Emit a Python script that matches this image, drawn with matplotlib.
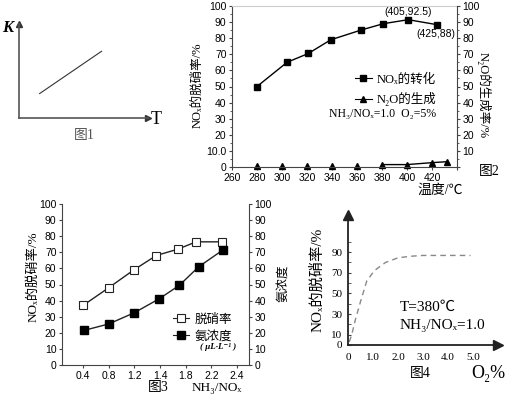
import numpy as np
import matplotlib
matplotlib.use("Agg")
import matplotlib.pyplot as plt
from matplotlib.lines import Line2D

plt.rcParams['font.family'] = ['Liberation Serif', 'Noto Sans CJK SC', 'DejaVu Sans']

W, H = 505, 394

# fig 1 (schematic K vs T)
k_line_t = [0.16, 0.64]
k_line_k = [0.26, 0.71]

# fig 2
temp_nox = [280, 304, 321, 339, 363, 381, 401, 424]
nox_conv = [50, 65, 70.5, 79, 85, 89, 91.5, 88.4]
temp_n2o = [280, 300, 320, 340, 360, 380, 400, 420, 432]
n2o_gen = [0.5, 0.5, 0.5, 0.5, 0.5, 1.5, 1.5, 2.7, 3.3]

# fig 3 (x in tick positions)
ratio_labels = ["0.4", "0.8", "1.2", "1.4", "1.8", "2.2", "2.4"]
pos_rate = [0.0, 1.0, 1.97, 2.85, 3.7, 4.4, 5.4]
denox_rate = [37, 48, 59, 68, 72, 76.5, 76.5]
pos_nh3 = [0.04, 1.0, 2.0, 2.95, 3.75, 4.5, 5.45]
nh3_conc = [21.5, 25.5, 32.5, 41, 49.5, 61, 71.5]

# fig 4
o2_pct = [0.05, 0.15, 0.3, 0.5, 0.75, 1.05, 1.5, 2.0, 2.5, 3.0, 4.0, 4.9]
o2_rate = [3, 10, 25, 42, 62, 72, 80, 84.5, 86, 86.8, 86.8, 86.8]


def rect(l, t, r, b):
    return [l / W, 1 - b / H, (r - l) / W, (b - t) / H]


def ft(x, y, s, **kw):
    kw.setdefault('ha', 'center')
    kw.setdefault('va', 'center')
    fig.text(x / W, 1 - y / H, s, **kw)


fig = plt.figure(figsize=(W / 100, H / 100), dpi=100)
axc = '#444444'
sans = ['Liberation Sans', 'Noto Sans CJK SC']

# ---------- fig 1 ----------
ax1 = fig.add_axes(rect(19, 24, 148, 118))
ax1.set_xlim(0, 1)
ax1.set_ylim(0, 1)
for s in ['top', 'right']:
    ax1.spines[s].set_visible(False)
for s in ['left', 'bottom']:
    ax1.spines[s].set_color('#555555')
    ax1.spines[s].set_linewidth(1.2)
ax1.set_xticks([])
ax1.set_yticks([])
ax1.plot(k_line_t, k_line_k, color='#333333', lw=0.8)
ax1.plot(0, 1, marker='^', color='#333333', ms=5, transform=ax1.transAxes, clip_on=False)
ax1.plot(1, 0, marker='>', color='#333333', ms=5, transform=ax1.transAxes, clip_on=False)
ft(8, 28, "K", fontsize=12, style='italic', fontweight='bold')
ft(156, 119, "T", fontsize=13)
ft(84, 135, "图1", fontsize=10, color='#555555')

# ---------- fig 2 ----------
ax2 = fig.add_axes(rect(232, 6, 457, 167))
ax2.set_xlim(260, 440)
ax2.set_ylim(0, 100)
ax2.plot(temp_nox, nox_conv, color='black', lw=1, marker='s', ms=4.5)
ax2.plot(temp_n2o, n2o_gen, color='black', lw=0, marker='^', ms=4.5, clip_on=False)
ax2.plot(temp_n2o[5:], n2o_gen[5:], color='black', lw=1)
ax2.set_xticks(range(260, 441, 20))
ax2.set_xticklabels([str(v) for v in range(260, 421, 20)] + [""])
ax2.set_yticks(range(0, 101, 10))
ax2.set_yticklabels(["0", "10.0"] + [str(v) for v in range(20, 101, 10)])
ax2.set_yticks(range(0, 101, 5), minor=True)
ax2.tick_params(labelsize=7.5, length=2.5, color=axc, pad=1.5)
ax2.tick_params(which='minor', length=1.5, color=axc)
for lab in ax2.get_xticklabels() + ax2.get_yticklabels():
    lab.set_family(sans)
ax2.spines['top'].set_color('#cccccc')
ax2.spines['right'].set_visible(False)
for s in ['left', 'bottom']:
    ax2.spines[s].set_color(axc)
ax2b = ax2.twinx()
ax2b.set_ylim(0, 100)
ax2b.set_yticks(range(0, 101, 10))
ax2b.set_yticklabels([""] + [str(v) for v in range(10, 101, 10)])
ax2b.set_yticks(range(0, 101, 5), minor=True)
ax2b.tick_params(labelsize=7.5, length=2.5, color=axc, pad=1.5)
ax2b.tick_params(which='minor', length=1.5, color=axc)
for lab in ax2b.get_yticklabels():
    lab.set_family(sans)
ax2b.spines['right'].set_color(axc)
for s in ['top', 'left', 'bottom']:
    ax2b.spines[s].set_visible(False)

h1 = Line2D([], [], color='black', lw=0.8, marker='s', ms=4)
h2 = Line2D([], [], color='black', lw=0.8, marker='^', ms=4)
ax2.legend([h1, h2], ["NOₓ的转化", "N₂O的生成"], frameon=False, fontsize=9,
           loc='upper left', bbox_to_anchor=(0.52, 0.62), handlelength=1.3,
           handletextpad=0.4, labelspacing=0.5, borderpad=0)
ft(329, 114, "NH₃/NOₓ=1.0  O₂=5%", fontsize=8.5, ha='left')
ft(408, 12, "(405,92.5)", fontsize=7.5, family=sans)
ft(436, 34, "(425,88)", fontsize=7.5, family=sans)
ft(197, 85, "NOₓ的脱硝率/%", fontsize=9, rotation=90)
ft(484, 95, "N₂O的生成率/%", fontsize=9, rotation=270)
ft(440, 190, "温度/℃", fontsize=10)
ft(489, 172, "图2", fontsize=10)

# ---------- fig 3 ----------
ax3 = fig.add_axes(rect(62, 204, 249, 365))
ax3.set_xlim(-0.82, 6.46)
ax3.set_ylim(0, 100)
ax3.plot(pos_rate, denox_rate, color='#222222', lw=1, marker='s', ms=6,
         mfc='white', mec='#222222', mew=0.8)
ax3.plot(pos_nh3, nh3_conc, color='#222222', lw=1, marker='s', ms=6,
         mfc='black', mec='black')
ax3.set_xticks(range(len(ratio_labels)))
ax3.set_xticklabels(ratio_labels)
ax3.set_yticks(range(0, 101, 10))
ax3.tick_params(labelsize=7.5, length=2.5, color=axc, pad=1.5)
ax3.tick_params(axis='y', right=True, labelright=True)
for lab in ax3.get_xticklabels() + ax3.get_yticklabels():
    lab.set_family(sans)
ax3.spines['top'].set_visible(False)
for s in ['left', 'bottom', 'right']:
    ax3.spines[s].set_color(axc)
h3 = Line2D([], [], color='#222222', lw=0.8, marker='s', ms=6, mfc='white', mec='#222222', mew=0.8)
h4 = Line2D([], [], color='#222222', lw=0.8, marker='s', ms=6, mfc='black', mec='black')
ax3.legend([h3, h4], ["脱硝率", "氨浓度"], frameon=False, fontsize=9,
           loc='upper left', bbox_to_anchor=(0.56, 0.36), handlelength=1.3,
           handletextpad=0.4, labelspacing=0.4, borderpad=0)
ft(218, 347, "( μL·L⁻¹ )", fontsize=6.5, style='italic', fontweight='bold')
ft(33, 277, "NOₓ的脱硝率/%", fontsize=9.5, rotation=90)
ft(283, 283, "氨浓度", fontsize=9, rotation=90)
ft(158, 387, "图3", fontsize=10)
ft(217, 388, "NH₃/NOₓ", fontsize=9.5)

# ---------- fig 4 ----------
ax4 = fig.add_axes(rect(348, 215, 498, 345))
ax4.set_xlim(0, 6)
ax4.set_ylim(0, 126)
ax4.plot(o2_pct, o2_rate, color='#888888', lw=1, ls=(0, (4, 3)))
for s in ['top', 'right']:
    ax4.spines[s].set_visible(False)
for s in ['left', 'bottom']:
    ax4.spines[s].set_color('#222222')
    ax4.spines[s].set_linewidth(1.3)
ax4.plot(0, 1, marker='^', color='#222222', ms=7, transform=ax4.transAxes, clip_on=False)
ax4.plot(1, 0, marker='>', color='#222222', ms=7, transform=ax4.transAxes, clip_on=False)
ax4.set_xticks([0, 1, 2, 3, 4, 5])
ax4.set_xticklabels(["0", "1.0", "2.0", "3.0", "4.0", "5.0"])
ax4.set_yticks([0, 10, 30, 50, 70, 90])
ax4.set_yticks(range(0, 101, 10), minor=True)
ax4.tick_params(labelsize=8, length=0, pad=3)
ax4.tick_params(axis='x', pad=6)
ax4.tick_params(axis='y', which='both', direction='in', length=2.5, color='#444444', pad=4)
ft(400, 307, "T=380℃", fontsize=11, ha='left')
ft(400, 325, "NH₃/NOₓ=1.0", fontsize=11, ha='left')
ft(317, 280, "NOₓ的脱硝率/%", fontsize=11, rotation=90)
ft(420, 374, "图4", fontsize=10)
ft(488, 374, "O₂%", fontsize=13)

fig.savefig("out.png", dpi=100)
